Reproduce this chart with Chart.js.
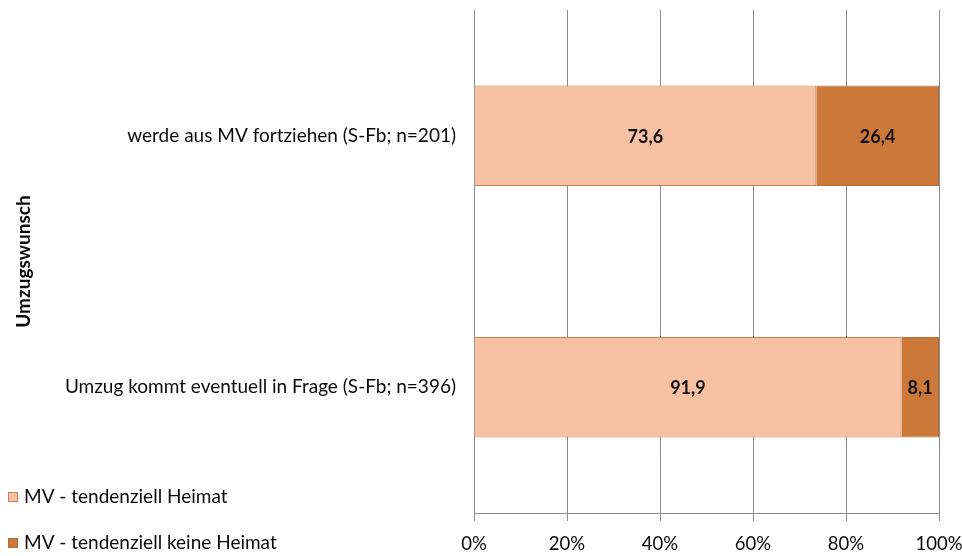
<!DOCTYPE html>
<html>
<head>
<meta charset="utf-8">
<script src="https://cdn.jsdelivr.net/npm/chart.js@4.4.1/dist/chart.umd.min.js"></script>
<style>
  html, body { margin: 0; padding: 0; background: #ffffff; }
  #wrap { position: relative; width: 962px; height: 556px; }
</style>
</head>
<body>
<div id="wrap"><canvas id="chart" width="962" height="556"></canvas></div>
<script>
// Categories (moving intention) and shares in percent
const categories = [
  'werde aus MV fortziehen (S-Fb; n=201)',
  'Umzug kommt eventuell in Frage (S-Fb; n=396)'
];
const seriesNames = ['MV - tendenziell Heimat', 'MV - tendenziell keine Heimat'];
const heimat = [73.6, 91.9];
const keineHeimat = [26.4, 8.1];
const xTicks = [0, 20, 40, 60, 80, 100];

const FONT = 'Lato, "Open Sans", sans-serif';
const colors = ['#F8C1A3', '#CC7838'];

// Value labels centred inside every bar segment
const valueLabels = {
  id: 'valueLabels',
  afterDatasetsDraw(chart) {
    const ctx = chart.ctx;
    ctx.save();
    ctx.font = 'bold 18px ' + FONT;
    ctx.fillStyle = '#111111';
    ctx.textAlign = 'center';
    ctx.textBaseline = 'middle';
    chart.data.datasets.forEach((ds, i) => {
      chart.getDatasetMeta(i).data.forEach((bar, j) => {
        const p = bar.getProps(['x', 'y', 'base'], true);
        const cx = (p.x + p.base) / 2;
        ctx.fillText(ds.data[j].toFixed(1).replace('.', ','), cx, p.y + 1);
      });
    });
    ctx.restore();
  }
};

// Legend stacked in the lower-left corner
const cornerLegend = {
  id: 'cornerLegend',
  afterDraw(chart) {
    const ctx = chart.ctx;
    ctx.save();
    ctx.font = '19px ' + FONT;
    ctx.textBaseline = 'middle';
    ctx.textAlign = 'left';
    const rows = [497, 543];
    chart.data.datasets.forEach((ds, i) => {
      const y = rows[i];
      ctx.fillStyle = ds.backgroundColor;
      ctx.fillRect(8, y - 5, 10, 10);
      ctx.strokeStyle = ds.borderColor;
      ctx.lineWidth = 1;
      ctx.strokeRect(8.5, y - 4.5, 9, 9);
      ctx.fillStyle = '#0a0a0a';
      ctx.fillText(ds.label, 24, y);
    });
    ctx.restore();
  }
};

// Keep tick labels from pushing the plot area inwards
function noOverhang(scale) {
  scale.paddingTop = 0;
  scale.paddingBottom = 0;
  scale.paddingLeft = 0;
  scale.paddingRight = 0;
}

new Chart(document.getElementById('chart'), {
  type: 'bar',
  data: {
    labels: categories,
    datasets: [
      { label: seriesNames[0], data: heimat, backgroundColor: colors[0], borderColor: '#C3825A', borderWidth: 1 },
      { label: seriesNames[1], data: keineHeimat, backgroundColor: colors[1], borderColor: '#B56E3A', borderWidth: 1 }
    ]
  },
  options: {
    indexAxis: 'y',
    responsive: false,
    animation: false,
    layout: { padding: { top: 10, left: 8, right: 23, bottom: 0 } },
    barPercentage: 0.4,
    categoryPercentage: 1.0,
    plugins: {
      legend: { display: false },
      tooltip: { enabled: false }
    },
    scales: {
      x: {
        stacked: true,
        min: 0,
        max: 100,
        afterBuildTicks(scale) { scale.ticks = xTicks.map(v => ({ value: v })); },
        afterFit(scale) { scale.height = 43; noOverhang(scale); },
        grid: { color: '#8a8a8a', lineWidth: 1, tickLength: 8, drawTicks: true },
        border: { color: '#8a8a8a' },
        ticks: {
          padding: 12,
          color: '#0a0a0a',
          font: { family: FONT, size: 18.5 },
          callback: v => v + '%'
        }
      },
      y: {
        stacked: true,
        afterFit(scale) { scale.width = 466; noOverhang(scale); },
        grid: { display: false },
        border: { color: '#8a8a8a' },
        ticks: {
          padding: 10,
          color: '#0a0a0a',
          font: { family: FONT, size: 19 }
        },
        title: {
          display: true,
          text: 'Umzugswunsch',
          color: '#0a0a0a',
          font: { family: FONT, size: 19, weight: 'bold' },
          padding: { top: 4, bottom: 4 }
        }
      }
    }
  },
  plugins: [valueLabels, cornerLegend]
});
</script>
</body>
</html>
